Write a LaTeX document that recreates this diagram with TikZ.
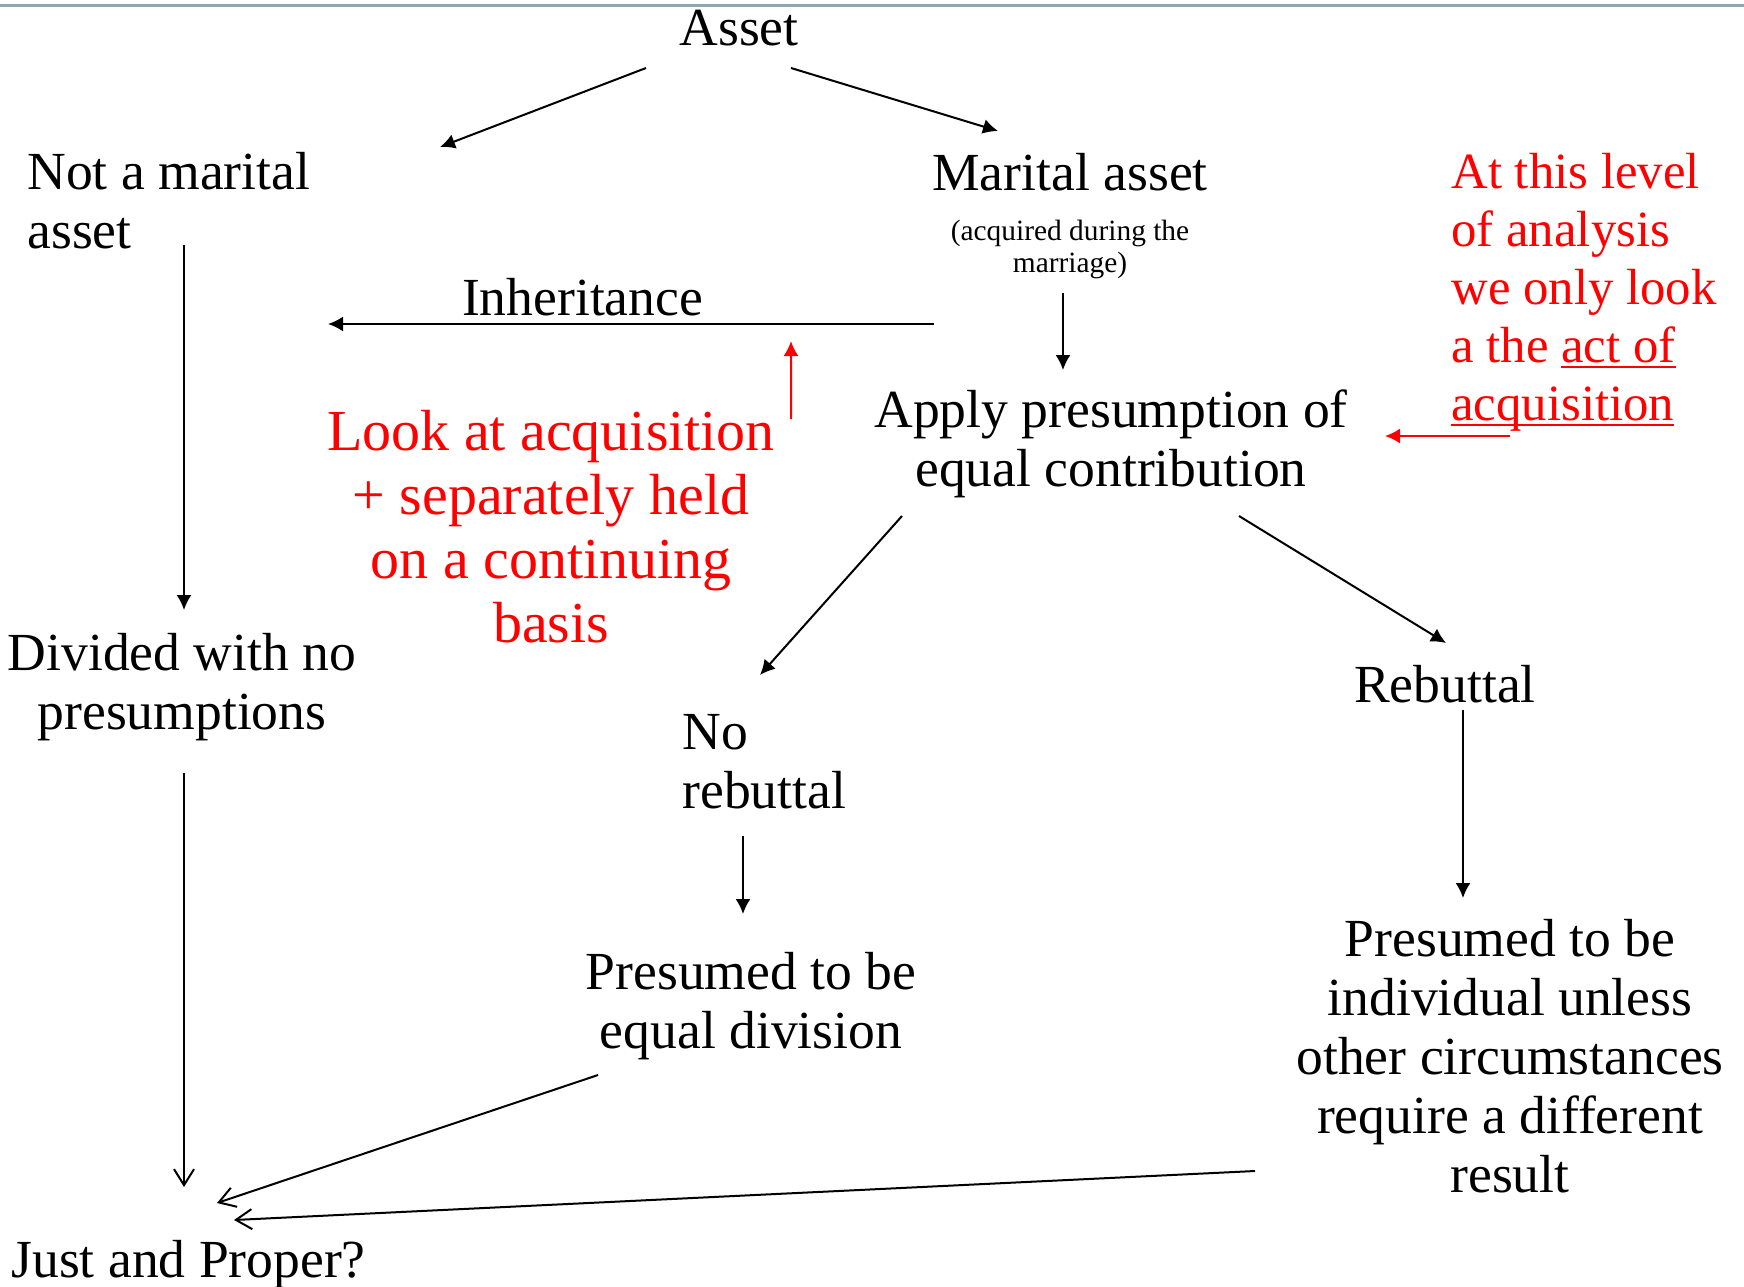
\documentclass[tikz,border=0pt]{standalone}
\usepackage{fontspec}
\setmainfont{Liberation Serif}
\usetikzlibrary{arrows.meta}
\definecolor{rulegray}{RGB}{142,168,178}
\newcommand{\redul}[1]{\setbox0\hbox{#1}\rlap{\rule[-3pt]{\wd0}{1.3pt}}#1}

\begin{document}
\begin{tikzpicture}[x=0.5pt,y=-0.5pt,
	txt/.style={inner sep=0pt,font=\fontsize{26.8}{29.5}\selectfont},
	small/.style={inner sep=0pt,font=\fontsize{14.7}{16}\selectfont},
	bignote/.style={inner sep=0pt,text=red,font=\fontsize{29}{32}\selectfont},
	sidenote/.style={inner sep=0pt,text=red,font=\fontsize{25.4}{29}\selectfont},
	arr/.style={-{Latex[length=7.5pt,width=7.5pt]},line width=1pt},
	openarr/.style={-{Straight Barb[length=8pt,width=10pt]},line width=1pt},
	redarr/.style={arr,red}]
	\useasboundingbox (0,0) rectangle (1744,1286);
	\draw[rulegray,line width=1.5pt] (0,5) -- (1744,5);
	\node[txt] (asset) at (739,28) {Asset};
	\node[txt,anchor=west,align=left] (notmar) at (27,201) {Not a marital\\asset};
	\node[txt] (marital) at (1070,172) {Marital asset};
	\node[small,align=center] (acq) at (1070,249) {(acquired during the\\marriage)};
	\node[txt,align=center] (apply) at (1111,444) {Apply presumption of\\equal contribution};
	\node[bignote,align=center] (look) at (551,527) {Look at acquisition\\+ separately held\\on a continuing\\basis};
	\node[sidenote,anchor=west,align=left] (level) at (1451,292) {At this level\\of analysis\\we only look\\a the \redul{act of}\\\redul{acquisition}};
	\node[txt,align=center] (divided) at (182,687) {Divided with no\\presumptions};
	\node[txt,anchor=west] (just) at (11,1265) {Just and Proper?};
	\node[txt,anchor=west,align=left] (norebut) at (682,762) {No\\rebuttal};
	\node[txt] (rebut) at (1445,684) {Rebuttal};
	\node[txt,align=center] (preseq) at (751,1006) {Presumed to be\\equal division};
	\node[txt,align=center] (presind) at (1510,1056) {Presumed to be\\individual unless\\other circumstances\\require a different\\result};
	\draw[arr] ([shift={(-93,40)}]asset.center) -- ([shift={(413,-54)}]notmar.west);
	\draw[arr] ([shift={(52,40)}]asset.center) -- ([shift={(-72,-41)}]marital.center);
	\draw[arr] ([shift={(157,44)}]notmar.west) -- ([shift={(2,-77)}]divided.center);
	\draw[openarr] ([shift={(2,86)}]divided.center) -- ([shift={(173,-78)}]just.west);
	\draw[arr] ([shift={(-7,44)}]acq.center) -- ([shift={(-48,-74)}]apply.center);
	\draw[arr] ([shift={(-136,75)}]acq.center) -- coordinate[pos=0.236] (inhhit) node[txt,pos=0.58,above=3.5pt] (inherit) {Inheritance} ([shift={(301,123)}]notmar.west);
	\draw[redarr] ([shift={(240,-108)}]look.center) -- ([yshift=-8.5pt]inhhit);
	\draw[redarr] ([shift={(59,144)}]level.west) -- ([shift={(274,-8)}]apply.center);
	\draw[arr] ([shift={(-209,72)}]apply.center) -- ([shift={(78,-87)}]norebut.west);
	\draw[arr] ([shift={(128,72)}]apply.center) -- ([shift={(1,-41)}]rebut.center);
	\draw[arr] ([shift={(61,74)}]norebut.west) -- ([shift={(-8,-92)}]preseq.center);
	\draw[arr] ([shift={(18,26)}]rebut.center) -- ([shift={(-47,-158)}]presind.center);
	\draw[openarr] ([shift={(-153,69)}]preseq.center) -- ([shift={(206,-62)}]just.west);
	\draw[openarr] ([shift={(-255,115)}]presind.center) -- ([shift={(223,-45)}]just.west);
\end{tikzpicture}
\end{document}
